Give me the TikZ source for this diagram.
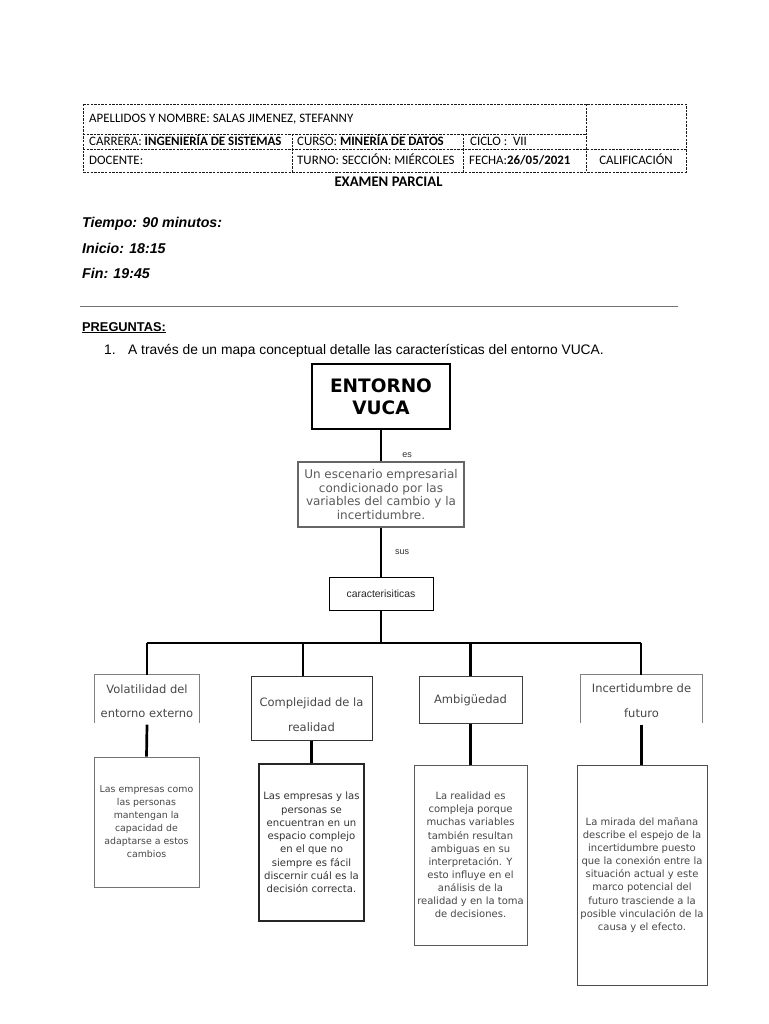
\documentclass[tikz,border=0pt]{standalone}
\usepackage{fontspec}
\setmainfont{Liberation Sans}
\newfontfamily\calfont{Carlito}
\newfontfamily\dvfont{DejaVu Sans}
\newcommand{\myfs}[2]{\fontsize{#1}{#2}\selectfont}
\definecolor{txtgray}{HTML}{474747}
\definecolor{midgray}{HTML}{5A5A5A}
\begin{document}
\begin{tikzpicture}[x=1pt,y=-1pt,
  hdash/.style={line width=0.7pt, dash pattern=on 2.4pt off 1.2pt, draw=black!90},
  hdr/.style={anchor=base west, inner sep=0pt, font=\calfont\myfs{12.9}{15}},
  timeline/.style={anchor=base west, inner sep=0pt, font=\bfseries\itshape\myfs{14.2}{16}},
  conn/.style={line width=2.7pt, draw=black},
  busline/.style={line width=2.2pt, draw=black},
  smalllbl/.style={inner sep=0pt, font=\myfs{9}{11}, text=black!80},
  l2text/.style={inner sep=0pt, align=center, text=txtgray, font=\dvfont\myfs{11.5}{24.5}},
  l3box/.style={draw, inner sep=0pt, align=center, text=txtgray}
]
\useasboundingbox (0,0) rectangle (768,1024);
\fill[white] (0,0) rectangle (768,1024);

% ---------- header table ----------
\draw[hdash] (83,104) rectangle (686,172);
\draw[hdash] (83,134) -- (586,134);
\draw[hdash] (83,149) -- (686,149);
\draw[hdash] (586,104) -- (586,172);
\draw[hdash] (292,134) -- (292,172);
\draw[hdash] (463,134) -- (463,172);

\node[hdr] (apellidos) at (89,123) {APELLIDOS Y NOMBRE: SALAS JIMENEZ, STEFANNY};
\node[hdr] (carrera) at (89,145.5) {CARRERA: \textbf{INGENIERÍA DE SISTEMAS}};
\node[hdr] (curso) at (297,145.5) {CURSO: \textbf{MINERÍA DE DATOS}};
\node[hdr] (ciclo) at (470,145.5) {CICLO :\ \ VII};
\node[hdr] (docente) at (89,165) {DOCENTE:};
\node[hdr] (turno) at (297,165) {TURNO: SECCIÓN: MIÉRCOLES};
\node[hdr] (fecha) at (469,165) {FECHA:\textbf{26/05/2021}};
\node[hdr, anchor=base] (calif) at (636,165) {CALIFICACIÓN};
\node[hdr, anchor=base, font=\calfont\bfseries\myfs{14.7}{16}] (examen) at (388.5,187) {EXAMEN PARCIAL};

% ---------- times ----------
\node[timeline] (tiempo) at (82,227) {Tiempo: 90 minutos:};
\node[timeline] (inicio) at (82,253) {Inicio: 18:15};
\node[timeline] (fin) at (82,278) {Fin: 19:45};

\draw[line width=0.9pt, draw=black!55] (80,306) -- (678,306);

\node[anchor=base west, inner sep=0pt, font=\bfseries\myfs{12.8}{14}] (preg) at (82,331) {\underline{PREGUNTAS:}};
\node[anchor=base west, inner sep=0pt, font=\myfs{13.8}{15}] (num) at (104,354) {1.};
\node[anchor=base west, inner sep=0pt, font=\myfs{13.8}{15}] (pregunta) at (128,354) {A través de un mapa conceptual detalle las características del entorno VUCA.};

% ---------- concept map ----------
\node[draw, line width=1.4pt, minimum width=138pt, minimum height=65pt, inner sep=0pt, align=center,
      font=\dvfont\bfseries\myfs{18.5}{22}] (entorno) at (381,396.5) {ENTORNO\\VUCA};

\node[draw=black!60, line width=1.2pt, minimum width=166pt, minimum height=65pt, inner sep=0pt, align=center,
      text=midgray, font=\dvfont\myfs{12}{13.7}] (escenario) at (381,494.5)
      {Un escenario empresarial\\condicionado por las\\variables del cambio y la\\incertidumbre.};

\node[draw, line width=0.9pt, minimum width=104pt, minimum height=33pt, inner sep=0pt,
      font=\myfs{10.4}{12}, text=black!85] (caract) at (381,593.5) {caracterisiticas};

\draw[conn] (entorno.south) -- (escenario.north);
\node[smalllbl] (es) at (407,455) {es};
\draw[conn] (escenario.south) -- (caract.north);
\node[smalllbl] (sus) at (402,552) {sus};

\coordinate (bus) at (381,643);
\coordinate (b1) at (147,643);
\coordinate (b2) at (303,643);
\coordinate (b3) at (470.5,643);
\coordinate (b4) at (641,643);
\draw[conn] (caract.south) -- (bus);
\draw[busline] (b1) -- (b4);

% level 2 boxes
\node[minimum width=104pt, minimum height=48pt, inner sep=0pt] (v1) at (147,699) {};
\node[minimum width=121pt, minimum height=64pt, inner sep=0pt, draw=black!80, line width=1pt] (v2) at (311.5,708) {};
\node[minimum width=103pt, minimum height=47pt, inner sep=0pt, draw=black!75, line width=1pt] (v3) at (470.5,699.5) {};
\node[minimum width=121pt, minimum height=48pt, inner sep=0pt] (v4) at (641.5,699) {};
\draw[draw=black!50, line width=0.9pt] (v1.south west) -- (v1.north west) -- (v1.north east) -- (v1.south east);
\draw[draw=black!50, line width=0.9pt] (v4.south west) -- (v4.north west) -- (v4.north east) -- (v4.south east);

\node[l2text] (v1t) at (147,701) {Volatilidad del\\entorno externo};
\node[l2text] (v2t) at (311.5,714.5) {Complejidad de la\\realidad};
\node[l2text] (v3t) at (470.5,700) {Ambigüedad};
\node[l2text] (v4t) at (641.5,700.5) {Incertidumbre de\\futuro};

\draw[conn] (b1) -- (b1 |- v1.north);
\draw[conn] (b2) -- (b2 |- v2.north);
\draw[conn] (b3) -- (b3 |- v3.north);
\draw[conn] (b4) -- (b4 |- v4.north);

% level 3 boxes
\node[l3box, draw=black!55, line width=0.9pt, minimum width=105pt, minimum height=130pt,
      font=\dvfont\myfs{9.4}{13}] (A) at (146.5,822)
      {Las empresas como\\las personas\\mantengan la\\capacidad de\\adaptarse a estos\\cambios};
\node[l3box, draw=black!85, line width=1.1pt, minimum width=105pt, minimum height=157pt,
      font=\dvfont\myfs{10.1}{13.3}, text=black!80] (B) at (311.5,842.5)
      {Las empresas y las\\personas se\\encuentran en un\\espacio complejo\\en el que no\\siempre es fácil\\discernir cuál es la\\decisión correcta.};
\node[l3box, draw=black!65, line width=1pt, minimum width=113pt, minimum height=180pt,
      font=\dvfont\myfs{10}{13.1}] (C) at (470.5,855)
      {La realidad es\\compleja porque\\muchas variables\\también resultan\\ambiguas en su\\interpretación. Y\\esto influye en el\\análisis de la\\realidad y en la toma\\de decisiones.};
\node[l3box, draw=black!70, line width=1pt, minimum width=130pt, minimum height=220pt,
      font=\dvfont\myfs{10}{13.1}] (D) at (642,875)
      {La mirada del mañana\\describe el espejo de la\\incertidumbre puesto\\que la conexión entre la\\situación actual y este\\marco potencial del\\futuro trasciende a la\\posible vinculación de la\\causa y el efecto.};

\draw[conn] ([yshift=-1.5pt]v1.south) -- (A.north);
\draw[conn] (v2.south) -- (B.north);
\draw[conn] (v3.south) -- (C.north);
\draw[conn] ([yshift=-1.5pt]v4.south) -- (v4.south |- D.north);
\end{tikzpicture}
\end{document}
